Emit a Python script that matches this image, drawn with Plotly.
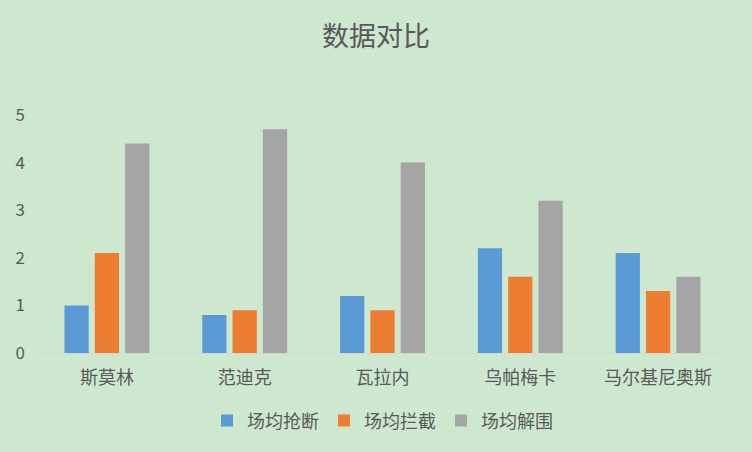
import plotly.graph_objects as go

categories = ["斯莫林", "范迪克", "瓦拉内", "乌帕梅卡", "马尔基尼奥斯"]
series_names = ["场均抢断", "场均拦截", "场均解围"]
steals = [1.0, 0.8, 1.2, 2.2, 2.1]
interceptions = [2.1, 0.9, 0.9, 1.6, 1.3]
clearances = [4.4, 4.7, 4.0, 3.2, 1.6]
colors = ["#5b9bd5", "#ed7d31", "#a5a5a5"]
y_ticks = [0, 1, 2, 3, 4, 5]

FONT = "Noto Sans CJK SC, Microsoft YaHei, sans-serif"
BG = "#cde8cf"

fig = go.Figure()
for name, vals, c in zip(series_names, [steals, interceptions, clearances], colors):
    fig.add_trace(go.Bar(x=categories, y=vals, name=name, marker=dict(color=c, line=dict(width=0))))

fig.update_layout(
    width=752, height=452,
    paper_bgcolor=BG, plot_bgcolor=BG,
    margin=dict(l=38, r=25, t=115, b=99),
    barmode="group", bargap=0.34, bargroupgap=0.2,
    title=dict(text="数据对比", x=0.5, xanchor="center", y=0.92, yanchor="middle",
               font=dict(family=FONT, size=27, color="#595959")),
    font=dict(family=FONT, color="#595959", size=18),
    xaxis=dict(showgrid=False, showline=False, ticks="", ticklabelstandoff=12,
               tickfont=dict(size=18, color="#595959")),
    yaxis=dict(range=[0, 5], tickvals=y_ticks, showgrid=True, gridcolor="#d6e4d3", gridwidth=1,
               zeroline=True, zerolinecolor="#d4d8d0", zerolinewidth=1, showline=False,
               ticks="", ticklen=0, ticklabelstandoff=12, tickfont=dict(size=17, color="#595959")),
    legend=dict(orientation="h", x=0.5, xanchor="center", y=-0.285, yanchor="middle",
                font=dict(size=18, color="#595959"), bgcolor="rgba(0,0,0,0)",
                itemwidth=30, tracegroupgap=0),
    showlegend=True,
)
fig.write_html("out.html", config={"displayModeBar": False},
               post_script="document.body.style.margin='0';document.body.style.background='%s';" % BG)
